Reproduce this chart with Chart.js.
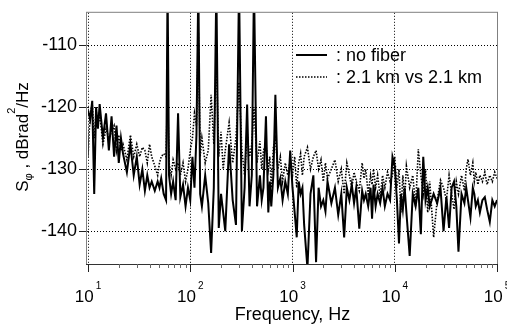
<!DOCTYPE html>
<html>
<head>
<meta charset="utf-8">
<script src="https://cdn.jsdelivr.net/npm/chart.js@4.4.0/dist/chart.umd.min.js"></script>
<style>
  body { margin: 0; background: #fff; }
  canvas { display: block; }
</style>
</head>
<body>
<canvas id="psdChart" width="507" height="329"></canvas>
<script>
// -------------------------
// DATOS
// -------------------------
const freq = [
    10, 10.5, 11, 11.5, 12, 12.5, 13, 14, 15, 16, 17, 18, 19, 20, 21, 22, 24, 26, 28, 30, 32,
    34, 36, 38, 40, 42, 45, 48, 50, 52, 55, 58, 60, 62, 65, 68, 72, 76, 80, 85, 90, 95,
    100, 105, 110, 115, 120, 125, 130, 140, 150, 160, 170, 180, 190, 200, 210, 220, 240, 260, 280, 300, 320,
    340, 360, 380, 400, 420, 450, 480, 500, 520, 550, 580, 600, 620, 650, 680, 720, 760, 800, 850, 900, 950,
    1000, 1050, 1100, 1150, 1200, 1250, 1300, 1400, 1500, 1600, 1700, 1800, 1900, 2000, 2100, 2200, 2400, 2600, 2800, 3000, 3200,
    3400, 3600, 3800, 4000, 4200, 4500, 4800, 5000, 5200, 5500, 5800, 6000, 6200, 6500, 6800, 7200, 7600, 8000, 8500, 9000, 9500,
    10000, 10500, 11000, 11500, 12000, 12500, 13000, 14000, 15000, 16000, 17000, 18000, 19000, 20000, 21000, 22000, 24000, 26000, 28000, 30000, 32000,
    34000, 36000, 38000, 40000, 42000, 45000, 48000, 50000, 52000, 55000, 58000, 60000, 62000, 65000, 68000, 72000, 76000, 80000, 85000, 90000, 95000,
    100000
];

// no fiber (linea continua)
const noFiber = [
    -120.5, -122, -119, -134, -120, -123.5, -119.5, -125, -121, -127, -121.5, -128, -123, -129, -125, -127.5, -130.5, -126, -131, -128, -132.5,
    -130, -133.5, -131, -133, -132, -133.5, -132, -133, -131.5, -134, -135, -100, -131, -134, -132, -135, -121, -134.5, -132.5, -136, -133,
    -135, -128, -133, -124.5, -100, -134, -136, -131, -135.5, -143.5, -133, -100, -139.5, -134, -137, -140, -126, -135, -139, -100, -140,
    -133, -119.6, -136, -131, -100, -136, -131, -135, -133, -121.5, -137, -132, -136, -131, -118, -133, -131.5, -135, -132, -134, -127,
    -133, -137, -141, -132, -134, -133, -139, -146, -134, -131, -145, -133, -136, -135, -136.8, -132, -135.5, -133, -137.4, -134, -141,
    -133, -135, -132.5, -135.5, -133, -139.6, -133.5, -135, -134, -136, -133, -138, -132.5, -136, -134, -135.5, -133, -136, -134, -135, -128,
    -129.5, -135, -142, -134, -136.5, -133, -137, -144, -134, -136, -133, -140.5, -128, -135, -133, -136, -134, -135.5, -133, -140, -134.5,
    -139.5, -133, -132, -136, -143.3, -134, -135.5, -133, -135, -137.8, -133, -134, -136, -135, -137, -135, -134.5, -136.5, -138.5, -135, -136,
    -135
];

// 2.1 km vs 2.1 km (linea punteada)
const fiber21 = [
    -128, -121, -119.5, -125, -120.5, -123, -121, -126, -123.5, -125, -124, -123, -127, -124.5, -127, -126, -128.5, -124.5, -128, -126, -128,
    -126.5, -127, -129, -126, -128, -129.5, -131, -129, -128, -127.5, -128, -117, -129, -131, -128.5, -130, -129, -131, -129, -132, -130,
    -127, -125, -121, -123, -108, -128, -125, -129, -127, -118, -126, -112, -128, -124, -130, -127, -122.5, -129, -125, -116, -127,
    -131, -124, -128, -126, -120, -129, -125.5, -130, -127, -126, -130, -128, -133, -126.5, -125, -130, -128, -132, -129, -131, -128.5,
    -131, -128, -133, -129, -127.5, -131, -128, -126.5, -130, -128, -127, -130, -128.5, -132, -129, -131.5, -130, -128.5, -132, -130, -134,
    -129, -131, -133, -130.5, -132, -133.5, -129, -131.5, -130, -134, -131, -132.5, -130, -133, -131, -134.5, -131, -133, -130.5, -132, -131,
    -128, -133, -130, -137, -131, -135, -129.5, -133, -131, -136, -126.8, -131, -134, -130, -137, -132, -141, -135, -131.8, -133, -135,
    -131, -134, -136.5, -132, -134, -131, -133.5, -130, -128.4, -131, -129, -132, -130.5, -132.5, -131, -132, -130.5, -132.5, -131, -132, -130.5,
    -131.5
];

const seriesLabels = [': no fiber', ': 2.1 km vs 2.1 km'];
const xDecades = [10, 100, 1000, 10000, 100000];
const xExponents = ['1', '2', '3', '4', '5'];
const yTicks = [-110, -120, -130, -140];

const FONT = "'Liberation Sans', Arial, sans-serif";

// -------------------------
// EJES, TEXTOS Y LEYENDA
// -------------------------
const decorPlugin = {
    id: 'decor',
    afterDraw(chart) {
        const ctx = chart.ctx;
        const a = chart.chartArea;
        const x = chart.scales.x;
        ctx.save();

        // marco
        ctx.strokeStyle = '#808080';
        ctx.lineWidth = 1;
        ctx.strokeRect(a.left - 1.5, a.top - 0.5, a.right - a.left + 2, a.bottom - a.top + 1);
        ctx.strokeStyle = '#333';
        ctx.beginPath();
        ctx.moveTo(a.left - 2, a.bottom + 0.5);
        ctx.lineTo(a.right + 1, a.bottom + 0.5);
        ctx.stroke();

        // marcas del eje x
        ctx.strokeStyle = '#222';
        xDecades.forEach((d, i) => {
            const px = Math.round(x.getPixelForValue(d)) + 0.5;
            ctx.beginPath();
            ctx.moveTo(px, a.bottom);
            ctx.lineTo(px, a.bottom + 8);
            ctx.stroke();
            if (i < xDecades.length - 1) {
                ctx.strokeStyle = '#666';
                for (let k = 2; k <= 9; k++) {
                    const pm = Math.round(x.getPixelForValue(d * k)) + 0.5;
                    ctx.beginPath();
                    ctx.moveTo(pm, a.bottom);
                    ctx.lineTo(pm, a.bottom + 4);
                    ctx.stroke();
                }
                ctx.strokeStyle = '#222';
            }
        });

        // etiquetas 10^n
        ctx.fillStyle = '#000';
        ctx.textBaseline = 'alphabetic';
        ctx.textAlign = 'left';
        xDecades.forEach((d, i) => {
            const px = x.getPixelForValue(d);
            ctx.font = '17px ' + FONT;
            const wBase = ctx.measureText('10').width;
            ctx.font = '10px ' + FONT;
            const wExp = ctx.measureText(xExponents[i]).width;
            const start = px - (wBase + wExp + 2) / 2;
            ctx.font = '17px ' + FONT;
            ctx.fillText('10', start, 302);
            ctx.font = '10px ' + FONT;
            ctx.fillText(xExponents[i], start + wBase + 2, 289);
        });

        // titulo eje x
        ctx.font = '18px ' + FONT;
        ctx.textAlign = 'center';
        ctx.fillText('Frequency, Hz', (a.left + a.right) / 2, 320);

        // titulo eje y: S_phi , dBrad^2/Hz
        const parts = [
            { t: 'S', size: 17, dy: 0 },
            { t: 'φ', size: 11, dy: 4 },
            { t: ' , dBrad', size: 17, dy: 0 },
            { t: '2', size: 11, dy: -13 },
            { t: '/Hz', size: 17, dy: 0 }
        ];
        let total = 0;
        parts.forEach(p => {
            ctx.font = p.size + 'px ' + FONT;
            p.w = ctx.measureText(p.t).width;
            total += p.w;
        });
        ctx.translate(28, 137);
        ctx.rotate(-Math.PI / 2);
        ctx.textAlign = 'left';
        let cx = -total / 2;
        parts.forEach(p => {
            ctx.font = p.size + 'px ' + FONT;
            ctx.fillText(p.t, cx, p.dy);
            cx += p.w;
        });
        ctx.setTransform(1, 0, 0, 1, 0, 0);

        // leyenda
        const rows = [
            { y: 55, width: 2, dash: [] },
            { y: 77, width: 1.5, dash: [1.5, 1.5] }
        ];
        ctx.font = '18px ' + FONT;
        ctx.textBaseline = 'middle';
        ctx.textAlign = 'left';
        rows.forEach((r, i) => {
            ctx.strokeStyle = '#000';
            ctx.lineWidth = r.width;
            ctx.setLineDash(r.dash);
            ctx.beginPath();
            ctx.moveTo(296, r.y);
            ctx.lineTo(327, r.y);
            ctx.stroke();
            ctx.setLineDash([]);
            ctx.fillText(seriesLabels[i], 336, r.y + 1);
        });

        ctx.restore();
    }
};

// -------------------------
// GRAFICO
// -------------------------
function createChart() {
    const ctx = document.getElementById('psdChart').getContext('2d');

    new Chart(ctx, {
        type: 'line',
        data: {
            datasets: [{
                label: seriesLabels[0],
                data: freq.map((f, i) => ({ x: f, y: noFiber[i] })),
                borderColor: '#000',
                borderWidth: 2,
                pointRadius: 0,
                fill: false,
                order: 0
            }, {
                label: seriesLabels[1],
                data: freq.map((f, i) => ({ x: f, y: fiber21[i] })),
                borderColor: '#000',
                borderWidth: 1.6,
                borderDash: [1.5, 1.5],
                pointRadius: 0,
                fill: false,
                order: 1
            }]
        },
        options: {
            responsive: false,
            animation: false,
            devicePixelRatio: 1,
            layout: { padding: { top: 2, right: 10, left: 0, bottom: 0 } },
            plugins: {
                legend: { display: false },
                tooltip: { enabled: false }
            },
            scales: {
                x: {
                    type: 'logarithmic',
                    min: 10,
                    max: 100000,
                    afterBuildTicks: (scale) => {
                        scale.ticks = xDecades.map(v => ({ value: v }));
                    },
                    afterFit: (scale) => { scale.height = 65; },
                    ticks: { display: false },
                    grid: { color: '#000', lineWidth: 1, drawTicks: false },
                    border: { display: false, dash: [1, 2] }
                },
                y: {
                    min: -145.3,
                    max: -104.8,
                    afterBuildTicks: (scale) => {
                        scale.ticks = yTicks.map(v => ({ value: v }));
                    },
                    afterFit: (scale) => { scale.width = 88; },
                    ticks: {
                        color: '#000',
                        padding: 2,
                        font: { family: FONT, size: 18 }
                    },
                    grid: { color: '#000', lineWidth: 1, tickLength: 9, tickColor: '#222' },
                    border: { display: false, dash: [1, 2] }
                }
            }
        },
        plugins: [decorPlugin]
    });
}

createChart();
</script>
</body>
</html>
